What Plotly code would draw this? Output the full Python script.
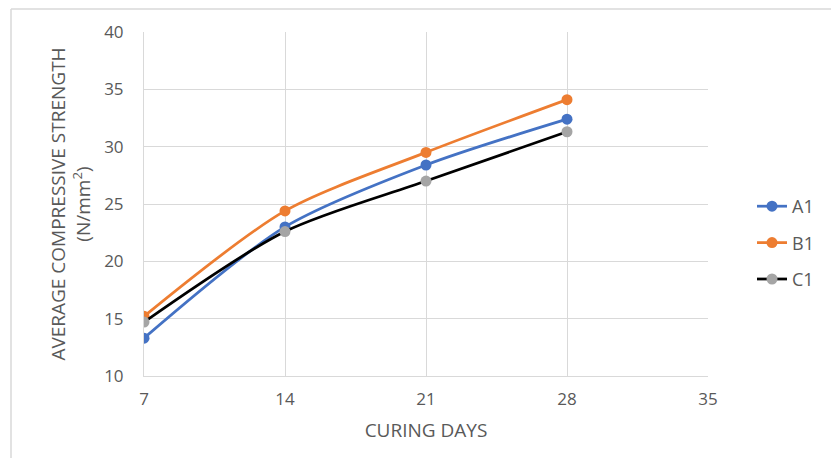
import plotly.graph_objects as go

days = [7, 14, 21, 28]
a1 = [13.3, 23.0, 28.4, 32.4]
b1 = [15.2, 24.4, 29.5, 34.1]
c1 = [14.7, 22.6, 27.0, 31.3]

x_ticks = [7, 14, 21, 28, 35]
y_ticks = [10, 15, 20, 25, 30, 35, 40]

OFF = 8  # default body margin of the html page
W, H = 839 - 2 * OFF, 466 - 2 * OFF
# plot area in page pixels
PL, PR, PT, PB = 144, 708, 32, 376
L, R, T, B = PL - OFF, PR - OFF, PT - OFF, PB - OFF

fig = go.Figure()
series = [
    ("A1", a1, "#4472C4", "#4472C4"),
    ("B1", b1, "#ED7D31", "#ED7D31"),
    ("C1", c1, "#000000", "#A5A5A5"),
]
for name, vals, lc, mc in series:
    fig.add_trace(go.Scatter(
        x=days, y=vals, name=name, mode="lines+markers", legendgroup=name,
        line=dict(color=lc, width=2.75, shape="spline", smoothing=0.8),
        marker=dict(color=mc, size=11),
    ))

FONT = "Open Sans, Liberation Sans, sans-serif"
tickfont = dict(family=FONT, size=17, color="#595959")
titlefont = dict(family=FONT, size=19, color="#595959")
legfont = dict(family=FONT, size=18, color="#595959")

fig.update_layout(
    width=W, height=H,
    margin=dict(l=L, r=W - R, t=T, b=H - B, autoexpand=False),
    paper_bgcolor="white", plot_bgcolor="white",
    font=tickfont,
    xaxis=dict(range=[7, 35], tickvals=x_ticks, showgrid=True, gridcolor="#D9D9D9",
               gridwidth=1, zeroline=False, showline=True, linecolor="#D9D9D9",
               tickfont=tickfont, ticks="", ticklabelstandoff=8,
               title=dict(text="CURING DAYS", font=titlefont, standoff=14)),
    yaxis=dict(range=[10, 40], tickvals=y_ticks, showgrid=True, gridcolor="#D9D9D9",
               gridwidth=1, zeroline=False, showline=True, linecolor="#D9D9D9",
               tickfont=tickfont, ticks="", ticklabelstandoff=16,
               title=dict(text="AVERAGE COMPRESSIVE STRENGTH<br>(N/mm<sup>2</sup>)",
                          font=titlefont, standoff=8)),
    legend=dict(x=(752 - PL) / (PR - PL), y=(PB - 188) / (PB - PT), xanchor="left", yanchor="top",
                font=legfont, tracegroupgap=10, bgcolor="rgba(0,0,0,0)"),
    showlegend=True,
)

def px_x(p):
    return (p - PL) / (PR - PL)

def px_y(p):
    return (PB - p) / (PB - PT)

# outer frame lines (top and left), page pixel positions
fig.add_shape(type="line", xref="paper", yref="paper",
              x0=px_x(11), x1=px_x(839), y0=px_y(9), y1=px_y(9),
              line=dict(color="#D9D9D9", width=1.5))
fig.add_shape(type="line", xref="paper", yref="paper",
              x0=px_x(11), x1=px_x(11), y0=px_y(9), y1=px_y(466),
              line=dict(color="#D9D9D9", width=1.5))

fig.write_html("out.html")
